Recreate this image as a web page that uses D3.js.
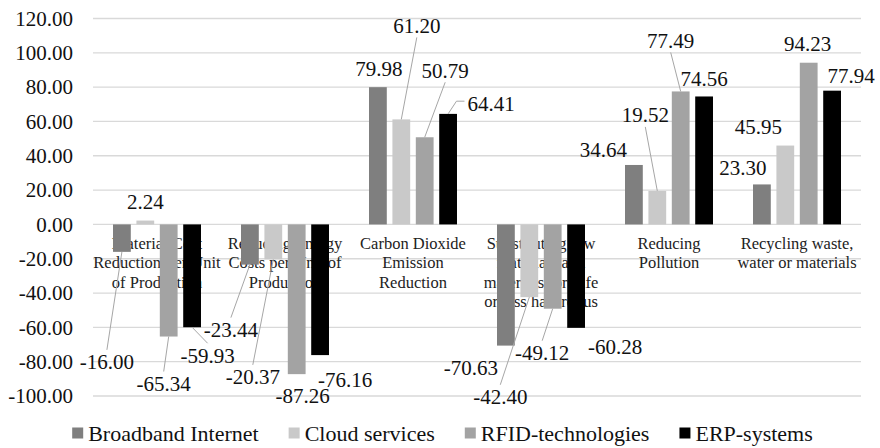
<!DOCTYPE html>
<html>
<head>
<meta charset="utf-8">
<script src="https://cdn.jsdelivr.net/npm/d3@7"></script>
<style>
  html, body { margin: 0; padding: 0; background: #fff; }
  svg { display: block; }
  svg text { font-family: "Liberation Serif", "Times New Roman", serif; }
</style>
</head>
<body>
<svg id="chart" width="880" height="448"></svg>
<script>
// Categories (line breaks as drawn under the axis)
const categories = [
  "Material Cost\nReduction Per Unit\nof Production",
  "Reducing Energy\nCosts per Unit of\nProduction",
  "Carbon Dioxide\nEmission\nReduction",
  "Substituting raw\nmaterials and\nmaterials for safe\nor less hazardous",
  "Reducing\nPollution",
  "Recycling waste,\nwater or materials"
];

const seriesNames = ["Broadband Internet", "Cloud services", "RFID-technologies", "ERP-systems"];

const broadband = [-16.00, -23.44, 79.98, -70.63, 34.64, 23.30];
const cloud     = [2.24, -20.37, 61.20, -42.40, 19.52, 45.95];
const rfid      = [-65.34, -87.26, 50.79, -49.12, 77.49, 94.23];
const erp       = [-59.93, -76.16, 64.41, -60.28, 74.56, 77.94];

const yTicks = [-100, -80, -60, -40, -20, 0, 20, 40, 60, 80, 100, 120];

// Label placement relative to the end of each bar: [dx, dy, leader line]
const labelOffsets = [
  [[-15, 110, 1], [-19, 65, 1], [1, -19, 0], [-35, 22, 0], [-30.5, -15, 0], [-19, -17, 0]],
  [[0, -19, 0], [-20.5, 117.5, 1], [15.5, -94, 1], [-29, 99.6, 1], [-12, -76, 1], [-27, -18.5, 0]],
  [[-5, 47, 1], [6, 22, 0], [20.5, -67, 1], [-10.5, 44, 1], [-10, -51, 1], [-1, -19, 0]],
  [[15.5, 28, 1], [25, 24.5, 0], [43, -10.7, 1], [39, 19, 0], [0, -18, 0], [19, -15, 0]]
];

const colors = ["#7f7f7f", "#c9c9c9", "#a3a3a3", "#000000"];
const seriesValues = [broadband, cloud, rfid, erp];

const FONT = "Liberation Serif, Times New Roman, serif";
const fmt = d3.formatLocale({ decimal: ".", thousands: ",", grouping: [3], currency: ["", ""], minus: "-" }).format(".2f");

const svg = d3.select("#chart");
const plot = { left: 93, right: 861, top: 18.5, bottom: 396 };

const y = d3.scaleLinear().domain([-100, 120]).range([plot.bottom, plot.top]);
const x0 = d3.scaleBand().domain(d3.range(categories.length)).range([plot.left, plot.right]).padding(0);
const x1 = d3.scaleBand().domain(d3.range(seriesNames.length))
  .range([0, x0.bandwidth()]).paddingInner(0.24).paddingOuter(0.855);

// Gridlines
svg.append("g").selectAll("line").data(yTicks).join("line")
  .attr("x1", plot.left).attr("x2", plot.right)
  .attr("y1", d => y(d)).attr("y2", d => y(d))
  .attr("stroke", "#d9d9d9").attr("stroke-width", 1.3);

// Y axis labels
const yAxis = d3.axisLeft(y).tickValues(yTicks).tickFormat(fmt).tickSize(0).tickPadding(0);
const gy = svg.append("g").attr("transform", "translate(73,0)").call(yAxis);
gy.attr("font-family", FONT);
gy.select(".domain").remove();
gy.selectAll("text").attr("font-size", 21).attr("fill", "#111").attr("font-family", FONT);

// Category labels (sit under the bars)
const catG = svg.append("g");
categories.forEach((c, i) => {
  const cx = x0(i) + x0.bandwidth() / 2;
  const t = catG.append("text")
    .attr("x", cx)
    .attr("y", y(0) + 24.5)
    .attr("text-anchor", "middle")
    .attr("font-family", FONT)
    .attr("font-size", 16.5)
    .attr("fill", "#222");
  c.split("\n").forEach((line, k) => {
    t.append("tspan").attr("x", cx).attr("dy", k === 0 ? 0 : 19.4).text(line);
  });
});

// Bars
const rows = [];
seriesValues.forEach((vals, s) => vals.forEach((v, i) => rows.push({ s, i, v })));

svg.append("g").selectAll("rect").data(rows).join("rect")
  .attr("x", d => x0(d.i) + x1(d.s))
  .attr("width", x1.bandwidth())
  .attr("y", d => y(Math.max(0, d.v)))
  .attr("height", d => Math.abs(y(d.v) - y(0)))
  .attr("fill", d => colors[d.s]);

// Data labels with leader lines
const lblG = svg.append("g");
const leadG = svg.append("g");
rows.forEach(d => {
  const [dx, dy, lead] = labelOffsets[d.s][d.i];
  const bx = x0(d.i) + x1(d.s) + x1.bandwidth() / 2;
  const by = y(d.v);
  const cx = bx + dx, cy = by + dy;
  const t = lblG.append("text")
    .attr("x", cx).attr("y", cy).attr("dy", "0.35em")
    .attr("text-anchor", "middle")
    .attr("font-family", FONT)
    .attr("font-size", 21).attr("fill", "#111")
    .text(fmt(d.v));
  if (!lead) return;
  const w = t.node().getComputedTextLength();
  const hw = w / 2 + 3, hh = 12;
  const ex = bx - cx, ey = by - cy;
  let pts;
  if (Math.abs(ex) / hw > Math.abs(ey) / hh) {
    const sx = cx + Math.sign(ex) * hw;
    pts = [[sx, cy - 2], [sx + Math.sign(ex) * 8, cy - 2], [bx, by]];
  } else {
    const sy = cy + Math.sign(ey) * hh;
    pts = [[cx, sy], [bx, by]];
  }
  leadG.append("path")
    .attr("d", d3.line()(pts))
    .attr("fill", "none").attr("stroke", "#a6a6a6").attr("stroke-width", 1);
});

// Legend
const legend = svg.append("g");
let lx = 0;
seriesNames.forEach((name, s) => {
  const g = legend.append("g");
  g.append("rect").attr("x", lx).attr("y", -5.5).attr("width", 11).attr("height", 11).attr("fill", colors[s]);
  const t = g.append("text").attr("x", lx + 16).attr("y", 0).attr("dy", "0.35em")
    .attr("font-family", FONT)
    .attr("font-size", 22).attr("fill", "#111").text(name);
  const w = t.node().getComputedTextLength();
  lx += 16 + w + 30;
});
const totalW = lx - 30;
legend.attr("transform", `translate(${442.5 - totalW / 2},433)`);
</script>
</body>
</html>
